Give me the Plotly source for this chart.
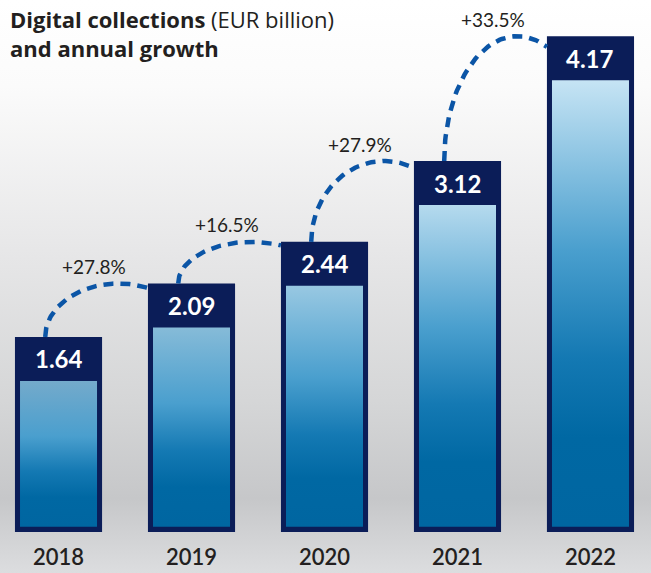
import base64
import math
import plotly.graph_objects as go

# ---- data ----
years = ["2018", "2019", "2020", "2021", "2022"]
values = [1.64, 2.09, 2.44, 3.12, 4.17]
value_labels = ["1.64", "2.09", "2.44", "3.12", "4.17"]
growth_labels = ["+27.8%", "+16.5%", "+27.9%", "+33.5%"]

# ---- style ----
NAVY = "#0b1d58"
ARC = "#0b55a6"
TXT = "#231f20"
FONT = "Lato"
BAR_W = 0.655          # outer bar width (category units)
INSET_X = 0.038        # border thickness (x units)
INSET_B = 0.045        # bottom border (y units)
HEADER = 0.37          # header block height (y units)
top_cols = ["#74aacb", "#86bbd8", "#98c8e2", "#b5daee", "#c6e4f4"]

fig = go.Figure()

# outer navy bars (border + header)
fig.add_trace(go.Bar(
    x=list(range(len(years))), y=values, width=BAR_W,
    marker=dict(color=NAVY, line=dict(width=0)),
    hoverinfo="skip", showlegend=False,
))

# gradient inner fill
for i, v in enumerate(values):
    x0 = i - BAR_W / 2 + INSET_X
    x1 = i + BAR_W / 2 - INSET_X
    y0 = INSET_B
    y1 = v - HEADER
    fig.add_trace(go.Scatter(
        x=[x0, x1, x1, x0, x0], y=[y0, y0, y1, y1, y0],
        mode="lines", fill="toself", line=dict(width=0),
        fillgradient=dict(
            type="vertical",
            colorscale=[[0, "#0066a1"], [0.2, "#0068a3"], [0.38, "#1479b3"],
                        [0.62, "#4a9fce"], [1, top_cols[i]]],
        ),
        hoverinfo="skip", showlegend=False,
    ))

# dashed growth arcs
for i in range(len(values) - 1):
    xs_ = i - 0.10
    xc = i + 0.45
    a = xc - xs_
    b = values[i + 1] - values[i]
    x_end = i + 1 - BAR_W / 2
    th_end = math.acos((x_end - xc) / a)
    n = 60
    xs, ys = [], []
    for k in range(n + 1):
        th = math.pi + (th_end - math.pi) * k / n
        xs.append(xc + a * math.cos(th))
        ys.append(values[i] + b * math.sin(th))
    fig.add_trace(go.Scatter(
        x=xs, y=ys, mode="lines",
        line=dict(color=ARC, width=4.5, dash="10px,7px"),
        hoverinfo="skip", showlegend=False,
    ))

annotations = []
for i, v in enumerate(values):
    annotations.append(dict(
        x=i, y=v, xref="x", yref="y", text=value_labels[i], showarrow=False,
        yanchor="middle", yshift=-22,
        font=dict(family=FONT, size=24, color="white", weight="bold"),
    ))
for i, g in enumerate(growth_labels):
    annotations.append(dict(
        x=i + 0.27, y=values[i + 1], xref="x", yref="y", text=g, showarrow=False,
        yanchor="middle", yshift=17,
        font=dict(family=FONT, size=19, color=TXT),
    ))
annotations.append(dict(
    x=0, y=1, xref="paper", yref="paper", xanchor="left", yanchor="top",
    xshift=8, yshift=-2, align="left", showarrow=False,
    text="<b>Digital collections</b> (EUR billion)<br><b>and annual growth</b>",
    font=dict(family="Open Sans", size=22, color=TXT),
))

svg = (
    "<svg xmlns='http://www.w3.org/2000/svg' width='651' height='573' preserveAspectRatio='none'>"
    "<defs><linearGradient id='g' x1='0' y1='0' x2='0' y2='1'>"
    "<stop offset='0' stop-color='#ffffff'/>"
    "<stop offset='0.15' stop-color='#fbfbfb'/>"
    "<stop offset='0.45' stop-color='#e6e6e7'/>"
    "<stop offset='0.7' stop-color='#d5d6d7'/>"
    "<stop offset='0.87' stop-color='#c6c7c9'/>"
    "<stop offset='1' stop-color='#dcdddf'/>"
    "</linearGradient></defs><rect width='651' height='573' fill='url(#g)'/></svg>"
)
src = "data:image/svg+xml;base64," + base64.b64encode(svg.encode()).decode()

fig.update_layout(
    width=651, height=573,
    margin=dict(l=0, r=0, t=0, b=41),
    paper_bgcolor="white", plot_bgcolor="rgba(0,0,0,0)",
    showlegend=False,
    annotations=annotations,
    images=[dict(source=src, xref="paper", yref="paper", x=0, y=1,
                 sizex=1, sizey=573 / 532, xanchor="left", yanchor="top",
                 sizing="stretch", layer="below")],
    xaxis=dict(range=[-0.44, 4.455], tickvals=list(range(len(years))), ticktext=years,
               showgrid=False, zeroline=False, showline=False, ticks="",
               ticklabelstandoff=10,
               tickfont=dict(family=FONT, size=22, color=TXT, weight=600)),
    yaxis=dict(range=[0, 4.474], visible=False, showgrid=False, zeroline=False),
)

fig.write_html("out.html", config={"displayModeBar": False},
               post_script="document.body.style.margin='0';document.body.style.overflow='hidden';")
